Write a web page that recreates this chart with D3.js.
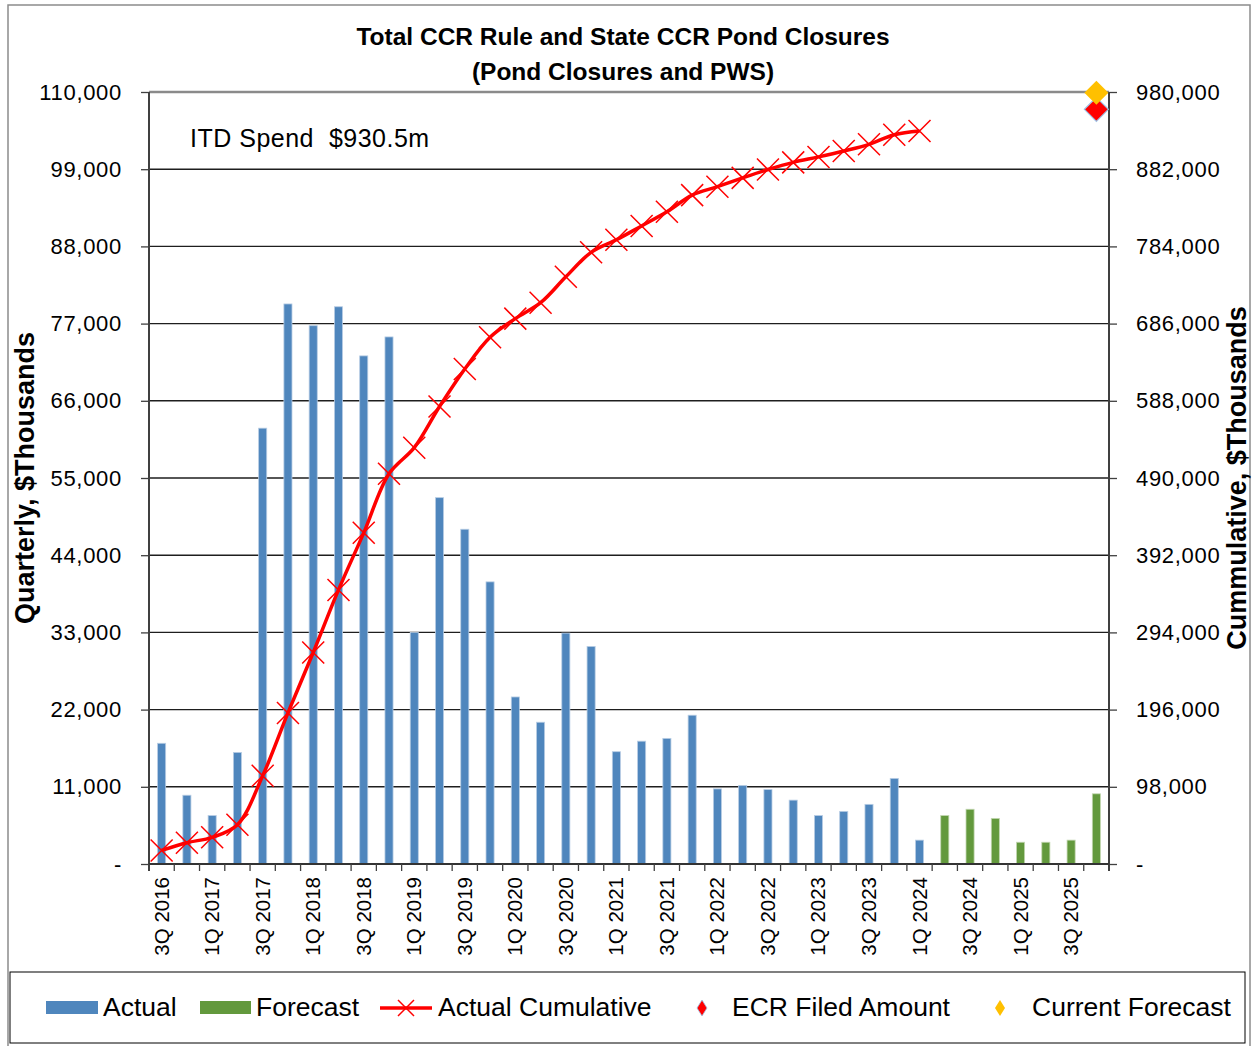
<!DOCTYPE html>
<html>
<head>
<meta charset="utf-8">
<script src="https://cdn.jsdelivr.net/npm/d3@7"></script>
<style>
    body { margin: 0; background: #fff; }
    svg { display: block; }
    text { font-family: "Liberation Sans", Arial, sans-serif; fill: #000; }
    .title { font-weight: bold; font-size: 24.5px; }
    .axis-title { font-family: "Liberation Sans Narrow", "Liberation Sans", Arial, sans-serif; font-weight: bold; font-size: 27px; }
    .tick-label { font-size: 22px; letter-spacing: 0.7px; }
    .x-label { font-size: 20.5px; }
    .legend-label { font-size: 26.5px; }
</style>
</head>
<body>
<div id="chart"></div>
<script>
'use strict';

var quarters = ['3Q 2016', '4Q 2016', '1Q 2017', '2Q 2017', '3Q 2017', '4Q 2017', '1Q 2018', '2Q 2018',
    '3Q 2018', '4Q 2018', '1Q 2019', '2Q 2019', '3Q 2019', '4Q 2019', '1Q 2020', '2Q 2020', '3Q 2020',
    '4Q 2020', '1Q 2021', '2Q 2021', '3Q 2021', '4Q 2021', '1Q 2022', '2Q 2022', '3Q 2022', '4Q 2022',
    '1Q 2023', '2Q 2023', '3Q 2023', '4Q 2023', '1Q 2024', '2Q 2024', '3Q 2024', '4Q 2024', '1Q 2025',
    '2Q 2025', '3Q 2025', '4Q 2025'];

var tickLabels = ['3Q 2016', '1Q 2017', '3Q 2017', '1Q 2018', '3Q 2018', '1Q 2019', '3Q 2019', '1Q 2020',
    '3Q 2020', '1Q 2021', '3Q 2021', '1Q 2022', '3Q 2022', '1Q 2023', '3Q 2023', '1Q 2024', '3Q 2024',
    '1Q 2025', '3Q 2025'];

// quarterly spend, $ thousands (3Q 2016 - 1Q 2024)
var actual = [17200, 9800, 6900, 15900, 62100, 79800, 76700, 79400, 72400, 75100, 33000, 52200, 47700,
    40200, 23800, 20200, 32900, 31000, 16000, 17500, 17900, 21200, 10700, 11200, 10600, 9100, 6900,
    7500, 8500, 12200, 3400];

// 2Q 2024 - 4Q 2025
var forecast = [6900, 7800, 6500, 3100, 3100, 3400, 10000];

var cumulative = [17200, 27000, 33900, 49800, 112000, 191800, 268500, 347900, 420400, 495500, 528500,
    580700, 628400, 668600, 692300, 712500, 745400, 776500, 792400, 810000, 827900, 849100, 859800,
    871000, 881600, 890700, 897600, 905100, 913600, 925800, 930500];

var ecrFiled = 958000;
var currentForecast = 979000;

var leftTicks = [0, 11000, 22000, 33000, 44000, 55000, 66000, 77000, 88000, 99000, 110000];
var rightTicks = [0, 98000, 196000, 294000, 392000, 490000, 588000, 686000, 784000, 882000, 980000];

var W = 1252, H = 1046;
var margin = {top: 92, right: 143, bottom: 182, left: 149};
var plotW = W - margin.left - margin.right;
var plotH = H - margin.top - margin.bottom;

var svg = d3.select('#chart').append('svg')
    .attr('width', W)
    .attr('height', H);

svg.append('rect')
    .attr('x', 8).attr('y', 5)
    .attr('width', W - 10).attr('height', H)
    .attr('fill', '#fff')
    .attr('stroke', '#8c8c8c')
    .attr('stroke-width', 1.5);

var x = d3.scaleBand()
    .domain(quarters)
    .range([margin.left, margin.left + plotW]);
var yL = d3.scaleLinear().domain([0, 110000]).range([margin.top + plotH, margin.top]);
var yR = d3.scaleLinear().domain([0, 980000]).range([margin.top + plotH, margin.top]);
var fmt = function(v) { return v === 0 ? '-' : d3.format(',')(v); };
var cx = function(q) { return x(q) + x.bandwidth() / 2; };

// title
svg.append('text').attr('class', 'title')
    .attr('x', 623).attr('y', 45).attr('text-anchor', 'middle')
    .text('Total CCR Rule and State CCR Pond Closures');
svg.append('text').attr('class', 'title')
    .attr('x', 623).attr('y', 80).attr('text-anchor', 'middle')
    .text('(Pond Closures and PWS)');

// gridlines
svg.append('g').selectAll('line')
    .data(leftTicks.slice(1, -1))
    .enter().append('line')
    .attr('x1', margin.left).attr('x2', margin.left + plotW)
    .attr('y1', yL).attr('y2', yL)
    .attr('stroke', '#1e1e1e')
    .attr('stroke-width', 1.4);
svg.append('line')
    .attr('x1', margin.left).attr('x2', margin.left + plotW)
    .attr('y1', margin.top).attr('y2', margin.top)
    .attr('stroke', '#8a8a8a')
    .attr('stroke-width', 2.5);

// left axis
var leftAxis = svg.append('g')
    .attr('transform', 'translate(' + margin.left + ',0)')
    .call(d3.axisLeft(yL).tickValues(leftTicks).tickSize(8).tickPadding(19).tickFormat(fmt));
leftAxis.select('.domain').attr('stroke', '#404040').attr('stroke-width', 2)
    .attr('d', 'M0,' + margin.top + 'V' + (margin.top + plotH + 7));
leftAxis.selectAll('.tick line').attr('stroke', '#404040').attr('stroke-width', 1.3);
leftAxis.selectAll('.tick text').attr('class', 'tick-label').attr('font-size', null)
    .attr('font-family', null).attr('fill', '#000');

// right axis
var rightAxis = svg.append('g')
    .attr('transform', 'translate(' + (margin.left + plotW) + ',0)')
    .call(d3.axisRight(yR).tickValues(rightTicks).tickSize(8).tickPadding(19).tickFormat(fmt));
rightAxis.select('.domain').attr('stroke', '#404040').attr('stroke-width', 2)
    .attr('d', 'M0,' + margin.top + 'V' + (margin.top + plotH + 7));
rightAxis.selectAll('.tick line').attr('stroke', '#404040').attr('stroke-width', 1.3);
rightAxis.selectAll('.tick text').attr('class', 'tick-label').attr('font-size', null)
    .attr('font-family', null).attr('fill', '#000');

// bars
var barW = x.bandwidth() * 0.32;
var actualQuarters = quarters.slice(0, actual.length);
var forecastQuarters = quarters.slice(actual.length);

svg.append('g').selectAll('rect')
    .data(actual)
    .enter().append('rect')
    .attr('x', function(d, i) { return cx(actualQuarters[i]) - barW / 2; })
    .attr('y', function(d) { return yL(d); })
    .attr('width', barW)
    .attr('height', function(d) { return yL(0) - yL(d); })
    .attr('fill', '#4f86bd')
    .attr('stroke', '#b8cde4')
    .attr('stroke-width', 0.8);

svg.append('g').selectAll('rect')
    .data(forecast)
    .enter().append('rect')
    .attr('x', function(d, i) { return cx(forecastQuarters[i]) - barW / 2; })
    .attr('y', function(d) { return yL(d); })
    .attr('width', barW)
    .attr('height', function(d) { return yL(0) - yL(d); })
    .attr('fill', '#63993d')
    .attr('stroke', '#c2d6b0')
    .attr('stroke-width', 0.8);

// x axis
var xAxis = svg.append('g')
    .attr('transform', 'translate(0,' + (margin.top + plotH) + ')');
xAxis.append('line')
    .attr('x1', margin.left).attr('x2', margin.left + plotW)
    .attr('stroke', '#333').attr('stroke-width', 2);
xAxis.selectAll('.qtick')
    .data(d3.range(quarters.length + 1))
    .enter().append('line')
    .attr('x1', function(i) { return margin.left + i * x.step(); })
    .attr('x2', function(i) { return margin.left + i * x.step(); })
    .attr('y1', 0).attr('y2', 7)
    .attr('stroke', '#404040').attr('stroke-width', 1.3);
xAxis.selectAll('text')
    .data(tickLabels)
    .enter().append('text')
    .attr('class', 'x-label')
    .attr('text-anchor', 'end')
    .attr('transform', function(d) { return 'translate(' + (cx(d) + 7) + ',13) rotate(-90)'; })
    .text(function(d) { return d; });

// cumulative line
var line = d3.line()
    .x(function(d, i) { return cx(actualQuarters[i]); })
    .y(function(d) { return yR(d); })
    .curve(d3.curveCatmullRom.alpha(0.5));

svg.append('path')
    .datum(cumulative)
    .attr('d', line)
    .attr('fill', 'none')
    .attr('stroke', '#ff0000')
    .attr('stroke-width', 3.5);

var xMark = 'M-11,-11L11,11M-11,11L11,-11';
svg.append('g').selectAll('path')
    .data(cumulative)
    .enter().append('path')
    .attr('transform', function(d, i) { return 'translate(' + cx(actualQuarters[i]) + ',' + yR(d) + ')'; })
    .attr('d', xMark)
    .attr('stroke', '#ff0000')
    .attr('stroke-width', 1.5)
    .attr('fill', 'none');

// diamonds at last quarter
var lastQ = quarters[quarters.length - 1];
var diamond = 'M0,-12L12,0L0,12L-12,0Z';
svg.append('path')
    .attr('transform', 'translate(' + cx(lastQ) + ',' + yR(ecrFiled) + ')')
    .attr('d', diamond)
    .attr('fill', '#ff0000')
    .attr('stroke', '#9dc3e6')
    .attr('stroke-width', 1.2);
svg.append('path')
    .attr('transform', 'translate(' + cx(lastQ) + ',' + yR(currentForecast) + ')')
    .attr('d', diamond)
    .attr('fill', '#ffc000');

// ITD annotation
svg.append('text')
    .attr('x', 190).attr('y', 147)
    .attr('font-size', 25)
    .attr('letter-spacing', 0.5)
    .style('white-space', 'pre')
    .text('ITD Spend  $930.5m');

// axis titles
svg.append('text').attr('class', 'axis-title')
    .attr('text-anchor', 'middle')
    .attr('transform', 'translate(34,478) rotate(-90)')
    .text('Quarterly, $Thousands');
svg.append('text').attr('class', 'axis-title')
    .attr('text-anchor', 'middle')
    .attr('transform', 'translate(1246,478) rotate(-90)')
    .text('Cummulative, $Thousands');

// legend
svg.append('rect')
    .attr('x', 10).attr('y', 972)
    .attr('width', 1235).attr('height', 71)
    .attr('fill', '#fff')
    .attr('stroke', '#000')
    .attr('stroke-width', 1);

var legend = svg.append('g');
legend.append('rect').attr('x', 46).attr('y', 1001).attr('width', 52).attr('height', 13).attr('fill', '#4f86bd');
legend.append('text').attr('class', 'legend-label').attr('x', 103).attr('y', 1016).text('Actual');
legend.append('rect').attr('x', 200).attr('y', 1001).attr('width', 51).attr('height', 13).attr('fill', '#63993d');
legend.append('text').attr('class', 'legend-label').attr('x', 256).attr('y', 1016).text('Forecast');
legend.append('line').attr('x1', 380).attr('x2', 432).attr('y1', 1008).attr('y2', 1008)
    .attr('stroke', '#ff0000').attr('stroke-width', 3.5);
legend.append('path').attr('transform', 'translate(406,1008)').attr('d', 'M-8,-8L8,8M-8,8L8,-8')
    .attr('stroke', '#ff0000').attr('stroke-width', 1.5);
legend.append('text').attr('class', 'legend-label').attr('x', 438).attr('y', 1016).text('Actual Cumulative');
legend.append('path').attr('transform', 'translate(702,1008)').attr('d', 'M0,-8L5,0L0,8L-5,0Z')
    .attr('fill', '#ff0000').attr('stroke', '#9dc3e6').attr('stroke-width', 0.8);
legend.append('text').attr('class', 'legend-label').attr('x', 732).attr('y', 1016).text('ECR Filed Amount');
legend.append('path').attr('transform', 'translate(1000,1008)').attr('d', 'M0,-8L5,0L0,8L-5,0Z')
    .attr('fill', '#ffc000');
legend.append('text').attr('class', 'legend-label').attr('x', 1032).attr('y', 1016).text('Current Forecast');
</script>
</body>
</html>
